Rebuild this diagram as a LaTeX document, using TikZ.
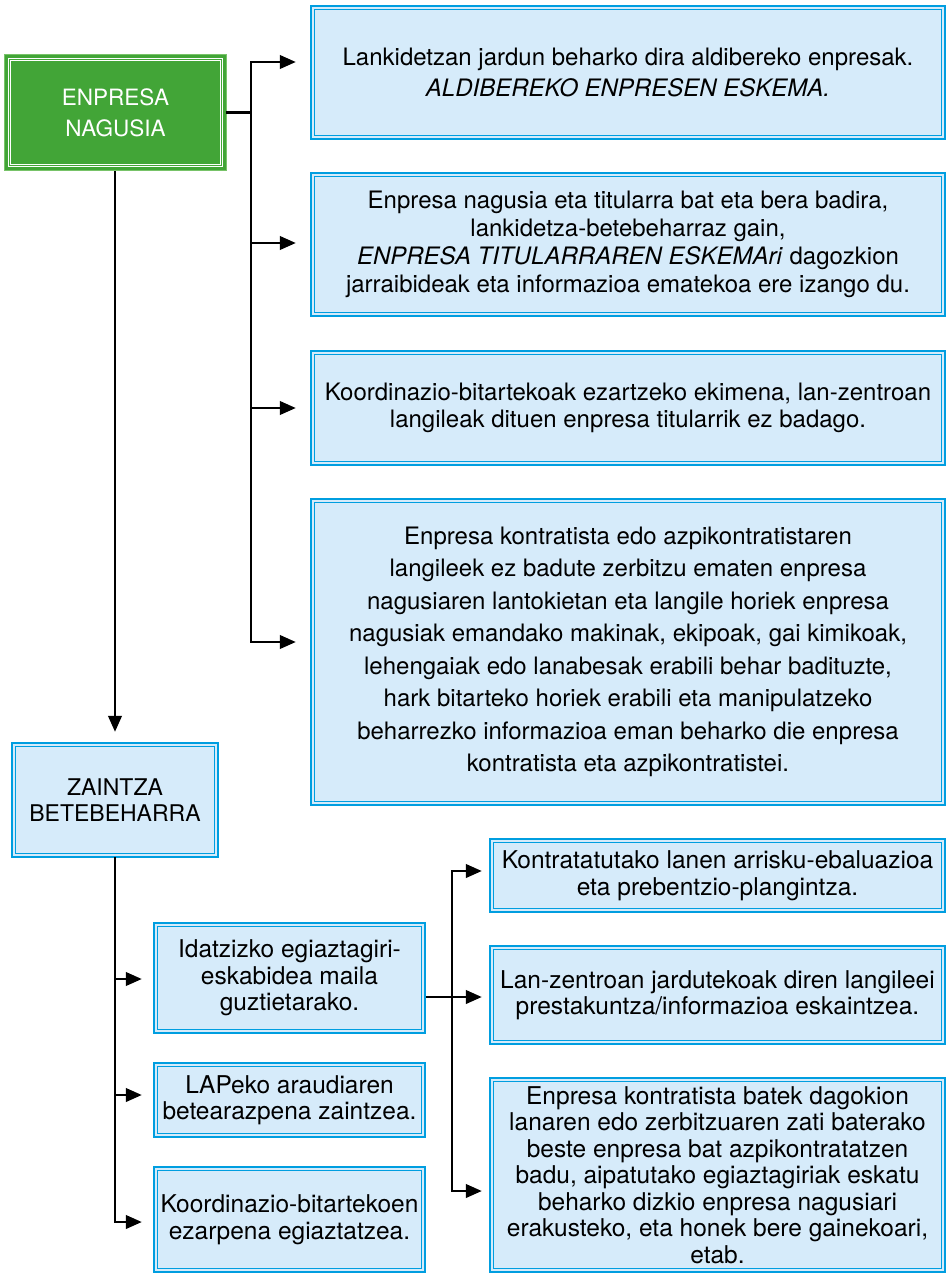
\documentclass[tikz,border=0pt]{standalone}
\usepackage{fontspec}
\setmainfont{TeX Gyre Heros}
\usetikzlibrary{arrows.meta,positioning}

\definecolor{boxblue}{RGB}{0,158,224}
\definecolor{boxfill}{RGB}{214,235,250}
\definecolor{boxgreen}{RGB}{66,165,55}
\definecolor{greenedge}{RGB}{120,195,105}

\tikzset{
  bluebox/.style={draw=boxblue, line width=2.4pt, fill=boxfill, align=center, inner sep=0pt,
    path picture={\draw[boxblue, line width=0.8pt]
      ([xshift=3.6pt,yshift=-3.6pt]path picture bounding box.north west) rectangle
      ([xshift=-3.6pt,yshift=3.6pt]path picture bounding box.south east);}},
  greenbox/.style={draw=greenedge, line width=1pt, fill=boxgreen, text=white,
    align=center, inner sep=0pt,
    path picture={\draw[white, line width=0.7pt, double=boxgreen, double distance=0.8pt]
      ([xshift=5pt,yshift=-5pt]path picture bounding box.north west) rectangle
      ([xshift=-5pt,yshift=5pt]path picture bounding box.south east);}},
  toptext/.style={font=\fontsize{24}{#1}\selectfont},
  lowtext/.style={font=\fontsize{24.5}{26.5}\selectfont},
  trunk/.style={-, line cap=rect}
}

\begin{document}
\begin{tikzpicture}[x=1pt,y=-1pt]

      \useasboundingbox (0,0) rectangle (950,1275);

      \begin{scope}[every node/.style={greenbox}]
        \node[minimum width=222pt, minimum height=116pt, font=\fontsize{22.5}{31}\selectfont]
          (1) at (115.5,112.5) {ENPRESA\\NAGUSIA};
      \end{scope}

      \begin{scope}[every node/.style={bluebox, minimum width=634pt}]
        \node[minimum height=133pt, toptext=31] (2) at (628,72.5)
          {Lankidetzan jardun beharko dira aldibereko enpresak.\\
           \textit{ALDIBEREKO ENPRESEN ESKEMA.}};
        \node[minimum height=143pt, toptext=28] (3) at (628,244.5)
          {Enpresa nagusia eta titularra bat eta bera badira,\\
           lankidetza-betebeharraz gain,\\
           \textit{ENPRESA TITULARRAREN ESKEMAri} dagozkion\\
           jarraibideak eta informazioa ematekoa ere izango du.};
        \node[minimum height=114pt, toptext=27] (4) at (628,408)
          {Koordinazio-bitartekoak ezartzeko ekimena, lan-zentroan\\
           langileak dituen enpresa titularrik ez badago.};
        \node[minimum height=306pt, toptext=32.5] (5) at (628,652)
          {Enpresa kontratista edo azpikontratistaren\\
           langileek ez badute zerbitzu ematen enpresa\\
           nagusiaren lantokietan eta langile horiek enpresa\\
           nagusiak emandako makinak, ekipoak, gai kimikoak,\\
           lehengaiak edo lanabesak erabili behar badituzte,\\
           hark bitarteko horiek erabili eta manipulatzeko\\
           beharrezko informazioa eman beharko die enpresa\\
           kontratista eta azpikontratistei.};
      \end{scope}

      \begin{scope}[every node/.style={bluebox, lowtext}]
        \node[minimum width=206pt, minimum height=114pt, font=\fontsize{23}{25.6}\selectfont]
          (6) at (115,800) {ZAINTZA\\BETEBEHARRA};
        \node[minimum width=271pt, minimum height=110pt] (7) at (289.5,978)
          {Idatzizko egiaztagiri-\\eskabidea maila\\guztietarako.};
        \node[minimum width=271pt, minimum height=74pt] (8) at (289.5,1100)
          {LAPeko araudiaren\\betearazpena zaintzea.};
        \node[minimum width=271pt, minimum height=105pt] (9) at (289.5,1219.5)
          {Koordinazio-bitartekoen\\ezarpena egiaztatzea.};
        \node[minimum width=455pt, minimum height=73pt] (10) at (717.5,875.5)
          {Kontratatutako lanen arrisku-ebaluazioa\\eta prebentzio-plangintza.};
        \node[minimum width=455pt, minimum height=98pt] (11) at (717.5,995)
          {Lan-zentroan jardutekoak diren langileei\\prestakuntza/informazioa eskaintzea.};
        \node[minimum width=455pt, minimum height=194pt] (12) at (717.5,1175)
          {Enpresa kontratista batek dagokion\\
           lanaren edo zerbitzuaren zati baterako\\
           beste enpresa bat azpikontratatzen\\
           badu, aipatutako egiaztagiriak eskatu\\
           beharko dizkio enpresa nagusiari\\
           erakusteko, eta honek bere gainekoari,\\
           etab.};
      \end{scope}

      % branch points
      \coordinate (a1) at (251,62);
      \coordinate (a2) at (251,243);
      \coordinate (a3) at (251,408);
      \coordinate (a4) at (251,642);
      \coordinate (b1) at (115,979);
      \coordinate (b2) at (115,1095);
      \coordinate (b3) at (115,1222);
      \coordinate (c1) at (452,871);
      \coordinate (c2) at (452,997);
      \coordinate (c3) at (452,1191);

      \begin{scope}[every edge/.style={draw, line width=2.5pt,
          -{Triangle[length=16pt,width=13.5pt]}}]
        \path (1.east) edge[trunk] (1.east -| a1);
        \path (a1) edge[trunk] (a4);
        \path (a1) edge[shorten >=14pt] (a1 -| 2.west);
        \path (a2) edge[shorten >=14pt] (a2 -| 3.west);
        \path (a3) edge[shorten >=14pt] (a3 -| 4.west);
        \path (a4) edge[shorten >=14pt] (a4 -| 5.west);

        \path (1.south -| 6.north) edge[shorten >=10pt] (6.north);
        \path (6.south) edge[trunk] (b3);
        \path (b1) edge[shorten >=11pt] (b1 -| 7.west);
        \path (b2) edge[shorten >=11pt] (b2 -| 8.west);
        \path (b3) edge[shorten >=11pt] (b3 -| 9.west);

        \path (7.east |- c2) edge[shorten >=7pt] (c2 -| 11.west);
        \path (c1) edge[trunk] (c3);
        \path (c1) edge[shorten >=7pt] (c1 -| 10.west);
        \path (c3) edge[shorten >=7pt] (c3 -| 12.west);
      \end{scope}

    \end{tikzpicture}
\end{document}
